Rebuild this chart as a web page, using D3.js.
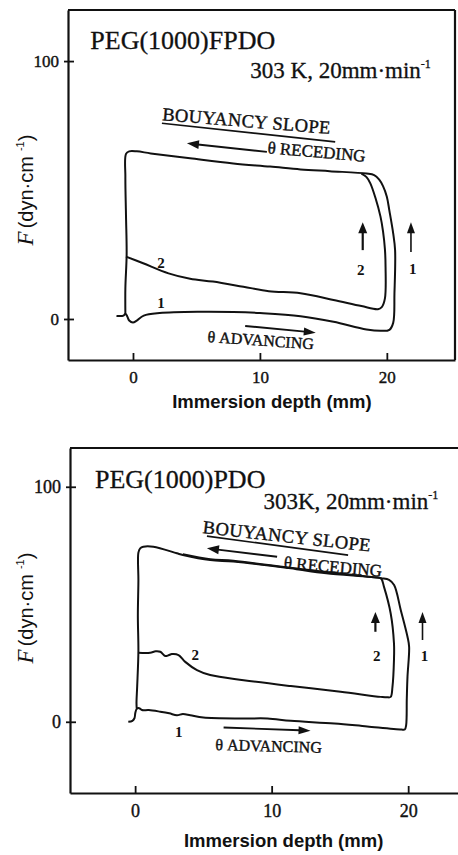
<!DOCTYPE html>
<html><head><meta charset="utf-8">
<script src="https://cdn.jsdelivr.net/npm/d3@7"></script>
<style>body{margin:0;background:#fff}svg{display:block}</style>
</head><body>
<svg id="chart" width="458" height="855"></svg>
<script>
// ---------------- DATA (immersion depth mm, force dyn/cm) ----------------
const xTickValues = [0, 10, 20];
const yTickValues = [0, 100];
const panelTitles = ["PEG(1000)FPDO", "PEG(1000)PDO"];
const conditionLabels = ["303 K, 20mm·min", "303K, 20mm·min"];
const xAxisTitle = "Immersion depth (mm)";

// Panel A: PEG(1000)FPDO, cycle 1 (advancing 1 -> receding outer -> back down)
const fpdoCycle1 = [
  [-1.3,1.2],[-0.75,1.3],[-0.6,2.1],[-0.45,1.0],[-0.3,-0.6],[0,-1.4],[0.3,-0.6],[0.85,1.3],
  [2.1,2.3],[5.3,2.8],[7.9,2.7],[10,2.3],[13.2,1.1],[15.8,-1.1],[18.4,-4.1],[19.6,-4.6],
  [20.2,-4.2],[20.5,-1.5],[20.6,10],[20.65,26.7],[20.5,33.2],[20.2,42],[20.0,47.4],[19.7,51.5],
  [19.4,54],[19.0,55.8],[18.4,56.4],[15.5,57.3],[13.2,58.0],[10.8,59.1],[7.9,60.3],[4.5,62.3],
  [1.4,64.2],[0.3,65.0],[-0.3,65.0],[-0.55,64.0],[-0.6,55],[-0.55,40],[-0.5,25],[-0.6,12],[-0.6,2.1]
];
// Panel A, cycle 2 (advancing 2 -> receding inner)
const fpdoCycle2 = [
  [-0.55,24.2],[0.8,21.6],[2.8,17.7],[4.5,15.6],[6.3,14.5],[8.7,12.5],[10.7,10.8],[13.2,10.0],
  [15.8,7.4],[18.0,5.0],[19.3,3.8],[19.6,4.6],[19.85,8],[19.9,20],[19.85,27],[19.7,34],
  [19.5,39.7],[19.1,47],[18.7,52.6],[18.4,55],[18.0,56.4]
];
// Panel B: PEG(1000)PDO, cycle 1
const pdoCycle1 = [
  [-0.5,0],[-0.2,0.4],[-0.05,1.5],[0.02,4],[0.12,5.5],[0.3,5.8],[0.5,5.0],[1.0,5.0],[1.84,4.3],
  [2.5,3.6],[3.06,2.8],[3.5,3.3],[4.04,2.8],[5.0,1.8],[7.95,1.4],[9.7,1.4],[11.4,0.4],[14.6,-0.7],
  [17.0,-2.0],[19.5,-3.3],[19.75,-3.3],[19.85,-1.5],[19.9,10],[19.95,19.1],[20.07,31.9],
  [19.95,36.2],[19.46,47.5],[18.97,58.2],[18.6,60.4],[18.0,61.1],[14.0,63.2],[12.1,64.7],
  [11.4,65.3],[7.2,68.2],[5.5,68.8],[3.5,71.0],[3.06,71.7],[1.34,74.5],[0.6,74.5],[0.37,73.8],
  [0.24,72],[0.24,60],[0.2,45],[0.24,30],[0.15,15],[0.1,8],[0.12,5.5]
];
// Panel B, cycle 2
const pdoCycle2 = [
  [0.24,29.4],[1.1,29.4],[1.5,30.0],[1.84,29.8],[2.2,28.0],[2.45,28.3],[2.69,28.8],[3.18,28.4],
  [3.67,25.5],[4.53,22.0],[5.5,19.9],[7.95,17.7],[11.4,15.2],[15.05,12.8],[18.0,10.6],[18.48,10.4],
  [18.72,10.6],[18.85,14.9],[18.96,26.3],[18.96,33.4],[18.72,46.1],[18.23,57.4],[18.0,61.1],
  [17.5,61.5],[12.1,65.0],[7.2,68.5],[5.5,69.2],[3.5,71.3]
];

// ---------------- LAYOUT ----------------
const panels = [
  { title: panelTitles[0], cond: conditionLabels[0], c1: fpdoCycle1, c2: fpdoCycle2,
    left: 68, right: 455, top: 10, bottom: 360, xDom: [-5.12, 25.37], yDom: [-15.9, 119.8],
    rightBorder: true, tickFs: 17,
    ann: { title:[-3.36,104.7], cond:[9.24,93.5], bouy:[2.28,77.1,4.7], under:[[2.28,75.9],[15.93,68.7]],
           rec:[[10.55,64.8],[4.25,68.1]], recText:[10.57,64.3,5], up2:[[18.1,26.7],[18.1,37.5]], up2L:[17.95,17],
           up1:[[21.9,26],[21.9,37.5]], up1L:[22.05,17.4], l2:[2.2,19.8], l1:[2.2,4.3],
           adv:[[8.84,-2.7],[14.4,-5.3]], advText:[5.85,-8.9,4] },
    yLabel: [33, 190], xLabelY: 408 },
  { title: panelTitles[1], cond: conditionLabels[1], c1: pdoCycle1, c2: pdoCycle2,
    left: 70, right: 458, top: 448, bottom: 793, xDom: [-4.77, 23.65], yDom: [-30.3, 116.5],
    rightBorder: false, tickFs: 18,
    ann: { title:[-2.94,99.4], cond:[9.4,90.5], bouy:[4.92,80.3,6.3], under:[[5.26,79.0],[15.6,70.9]],
           rec:[[10.4,70.2],[5.26,73.8]], recText:[10.87,65.4,5], up2:[[17.6,38.3],[17.6,46.7]], up2L:[17.7,26],
           up1:[[21.05,34.8],[21.05,46.7]], up1L:[21.2,26], l2:[4.4,26.3], l1:[3.2,-6.4],
           adv:[[6.48,-2.4],[12.85,-3.8]], advText:[5.87,-12,1.5] },
    yLabel: [33, 608], xLabelY: 847 }
];

const svg = d3.select("#chart");
svg.append("rect").attr("width",458).attr("height",855).attr("fill","#fff");
const ink = "#111";
const serif = "'Liberation Serif','Times New Roman',serif";
const sans = "'Liberation Sans',Arial,sans-serif";

function arrow(g, x1, y1, x2, y2, len, wid, sw) {
  const dx = x2 - x1, dy = y2 - y1, L = Math.hypot(dx, dy);
  const ux = dx / L, uy = dy / L;
  const bx = x2 - ux * len, by = y2 - uy * len;
  g.append("line").attr("x1",x1).attr("y1",y1).attr("x2",bx + ux*1).attr("y2",by + uy*1)
    .attr("stroke",ink).attr("stroke-width",sw);
  g.append("path").attr("d",`M${x2},${y2}L${bx - uy*wid/2},${by + ux*wid/2}L${bx + uy*wid/2},${by - ux*wid/2}Z`)
    .attr("fill",ink);
}
function heavy(sel, w) { return sel.attr("stroke",ink).attr("stroke-width",w).attr("paint-order","stroke"); }

panels.forEach(p => {
  const x = d3.scaleLinear().domain(p.xDom).range([p.left, p.right]);
  const y = d3.scaleLinear().domain(p.yDom).range([p.bottom, p.top]);
  const g = svg.append("g");

  // frame
  g.append("line").attr("x1",p.left).attr("x2",p.right).attr("y1",p.top).attr("y2",p.top)
    .attr("stroke",ink).attr("stroke-width",2.2);
  if (p.rightBorder) g.append("line").attr("x1",p.right).attr("x2",p.right).attr("y1",p.top).attr("y2",p.bottom)
    .attr("stroke",ink).attr("stroke-width",2.2);

  // axes
  const ya = g.append("g").attr("transform",`translate(${p.left},0)`)
    .call(d3.axisLeft(y).tickValues(yTickValues).tickSizeInner(-6).tickSizeOuter(0).tickPadding(9));
  const xa = g.append("g").attr("transform",`translate(0,${p.bottom})`)
    .call(d3.axisBottom(x).tickValues(xTickValues).tickSizeInner(-7).tickSizeOuter(0).tickPadding(11));
  [ya, xa].forEach(a => {
    a.select(".domain").attr("stroke",ink).attr("stroke-width",2.2);
    a.selectAll(".tick line").attr("stroke",ink).attr("stroke-width",1.8);
    heavy(a.selectAll(".tick text").attr("font-family",serif).attr("font-size",p.tickFs).attr("fill",ink), 0.4);
  });
  ya.selectAll(".tick line").attr("x1",-4);

  // curves
  const line = d3.line().x(d => x(d[0])).y(d => y(d[1])).curve(d3.curveCatmullRom.alpha(0.5));
  [p.c1, p.c2].forEach(c => {
    g.append("path").attr("d", line(c)).attr("fill","none").attr("stroke",ink)
      .attr("stroke-width",2).attr("stroke-linejoin","round");
  });

  const a = p.ann;
  // title and condition
  heavy(g.append("text").attr("x",x(a.title[0])).attr("y",y(a.title[1])).text(p.title)
    .attr("font-family",serif).attr("font-size",26).attr("fill",ink), 0.3);
  const ct = heavy(g.append("text").attr("x",x(a.cond[0])).attr("y",y(a.cond[1]))
    .attr("font-family",serif).attr("font-size",23).attr("fill",ink), 0.3);
  ct.append("tspan").text(p.cond);
  ct.append("tspan").text("-1").attr("font-size",12).attr("dy",-10);

  // bouyancy slope
  heavy(g.append("text").attr("transform",`translate(${x(a.bouy[0])},${y(a.bouy[1])}) rotate(${a.bouy[2]})`)
    .text("BOUYANCY SLOPE").attr("font-family",serif).attr("font-size",18.5).attr("letter-spacing",0.4).attr("fill",ink), 0.4);
  g.append("line").attr("x1",x(a.under[0][0])).attr("y1",y(a.under[0][1]))
    .attr("x2",x(a.under[1][0])).attr("y2",y(a.under[1][1])).attr("stroke",ink).attr("stroke-width",1.7);
  arrow(g, x(a.rec[0][0]), y(a.rec[0][1]), x(a.rec[1][0]), y(a.rec[1][1]), 12, 9, 1.9);
  heavy(g.append("text").attr("transform",`translate(${x(a.recText[0])},${y(a.recText[1])}) rotate(${a.recText[2]})`)
    .text("θ RECEDING").attr("font-family",serif).attr("font-size",17).attr("fill",ink), 0.4);

  // upward arrows
  arrow(g, x(a.up2[0][0]), y(a.up2[0][1]), x(a.up2[1][0]), y(a.up2[1][1]), 11, 9, 2.2);
  arrow(g, x(a.up1[0][0]), y(a.up1[0][1]), x(a.up1[1][0]), y(a.up1[1][1]), 11, 8, 1.6);
  [[a.up2L,"2"],[a.up1L,"1"],[a.l2,"2"],[a.l1,"1"]].forEach(([pos,t]) => {
    g.append("text").attr("x",x(pos[0])).attr("y",y(pos[1])).attr("text-anchor","middle").text(t)
      .attr("font-family",serif).attr("font-size",15).attr("font-weight","bold").attr("fill",ink);
  });

  // advancing
  arrow(g, x(a.adv[0][0]), y(a.adv[0][1]), x(a.adv[1][0]), y(a.adv[1][1]), 12, 8, 1.9);
  heavy(g.append("text").attr("transform",`translate(${x(a.advText[0])},${y(a.advText[1])}) rotate(${a.advText[2]})`)
    .text("θ ADVANCING").attr("font-family",serif).attr("font-size",16).attr("fill",ink), 0.4);

  // axis titles
  g.append("text").attr("x",(x(0)+x(20))/2 + 12).attr("y",p.xLabelY).attr("text-anchor","middle")
    .text(xAxisTitle).attr("font-family",sans).attr("font-weight","bold").attr("font-size",18.5).attr("fill",ink);
  const yl = g.append("text").attr("transform",`translate(${p.yLabel[0]},${p.yLabel[1]}) rotate(-90)`)
    .attr("text-anchor","middle").attr("fill",ink);
  yl.append("tspan").text("F").attr("font-family",serif).attr("font-style","italic").attr("font-size",23);
  yl.append("tspan").text("(dyn·cm").attr("font-family",sans).attr("font-size",20).attr("dx",3);
  yl.append("tspan").text("-1").attr("font-family",sans).attr("font-size",11).attr("dy",-9).attr("dx",5);
  yl.append("tspan").text(")").attr("font-family",sans).attr("font-size",20).attr("dy",9);
});
</script>
</body></html>
